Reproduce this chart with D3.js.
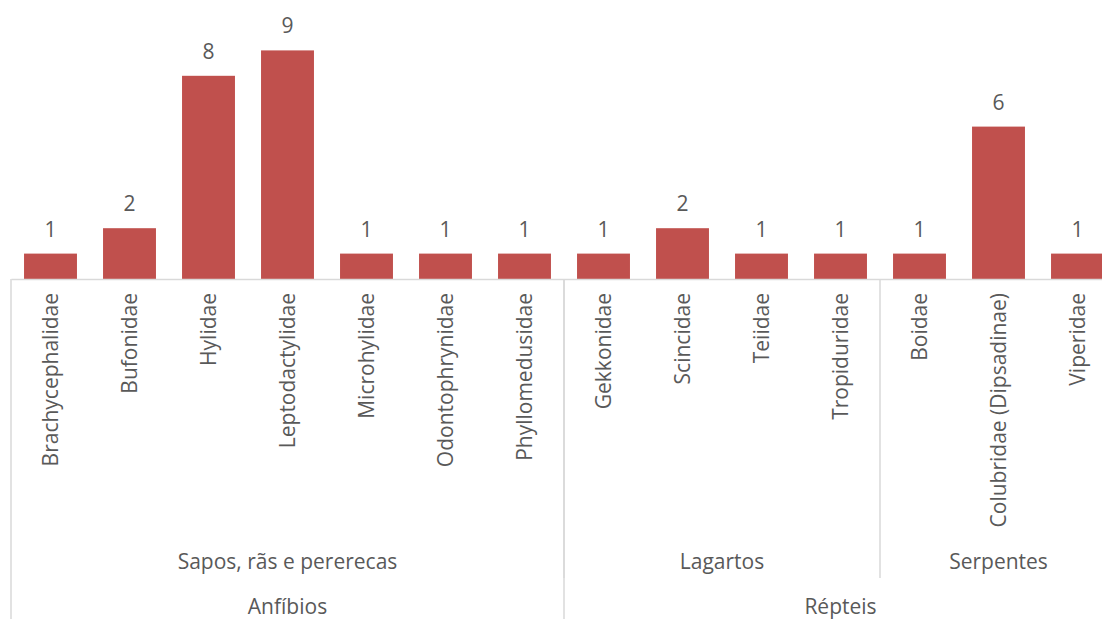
<!DOCTYPE html>
<html>
<head>
<meta charset="utf-8">
<script src="https://cdn.jsdelivr.net/npm/d3@7"></script>
<style>
  body { margin: 0; background: #fff; }
  svg text { font-family: "Open Sans", Lato, sans-serif; fill: #595959; }
</style>
</head>
<body>
<div class="chart"></div>
<script>
// families and counts
var families = ["Brachycephalidae", "Bufonidae", "Hylidae", "Leptodactylidae", "Microhylidae",
  "Odontophrynidae", "Phyllomedusidae", "Gekkonidae", "Scincidae", "Teiidae", "Tropiduridae",
  "Boidae", "Colubridae (Dipsadinae)", "Viperidae"];
var counts = [1, 2, 8, 9, 1, 1, 1, 1, 2, 1, 1, 1, 6, 1];

// group levels: [label, first family, last family]
var subGroups = [
  ["Sapos, rãs e pererecas", "Brachycephalidae", "Phyllomedusidae"],
  ["Lagartos", "Gekkonidae", "Tropiduridae"],
  ["Serpentes", "Boidae", "Viperidae"]
];
var mainGroups = [
  ["Anfíbios", "Brachycephalidae", "Phyllomedusidae"],
  ["Répteis", "Gekkonidae", "Viperidae"]
];

var svgWidth = 1102, svgHeight = 619;
var axisY = 279;
var fontSize = "21px";

var svg = d3.select(".chart").append("svg")
  .attr("width", svgWidth)
  .attr("height", svgHeight);

// band scale runs past the right edge, like the original (cut off)
var xScale = d3.scaleBand()
  .domain(families)
  .range([11, 1117])
  .paddingInner(0.33)
  .paddingOuter(0.165);

var yScale = d3.scaleLinear()
  .domain([0, 10])
  .range([axisY, axisY - 254]);

// bars
svg.append("g").selectAll("rect")
  .data(families)
  .enter()
  .append("rect")
  .attr("x", d => xScale(d))
  .attr("width", xScale.bandwidth())
  .attr("y", (d, i) => yScale(counts[i]))
  .attr("height", (d, i) => axisY - yScale(counts[i]))
  .attr("fill", "#C0504D");

// value labels
svg.append("g").selectAll("text")
  .data(families)
  .enter()
  .append("text")
  .attr("x", d => xScale(d) + xScale.bandwidth() / 2)
  .attr("y", (d, i) => yScale(counts[i]) - 17)
  .attr("text-anchor", "middle")
  .style("font-size", fontSize)
  .text((d, i) => counts[i]);

// category axis
var xAxis = d3.axisBottom(xScale).tickSize(0).tickSizeOuter(0);
var axisG = svg.append("g")
  .attr("transform", `translate(0, ${axisY})`)
  .call(xAxis);
axisG.select(".domain").attr("stroke", "#D9D9D9").attr("stroke-width", 1.5);
axisG.selectAll(".tick text")
  .attr("transform", "rotate(-90)")
  .attr("x", -14)
  .attr("y", 0)
  .attr("dy", "0.35em")
  .attr("text-anchor", "end")
  .style("font-size", fontSize)
  .style("fill", "#595959");

var step = xScale.step();
var left = d => xScale(d) - xScale.paddingInner() * step / 2;
var right = d => xScale(d) + xScale.bandwidth() + xScale.paddingInner() * step / 2;

var lineColor = "#D9D9D9";

// separator lines for sub groups
svg.append("g").selectAll("line")
  .data(subGroups.slice(1))
  .enter()
  .append("line")
  .attr("x1", d => left(d[1]))
  .attr("x2", d => left(d[1]))
  .attr("y1", axisY)
  .attr("y2", 578)
  .attr("stroke", lineColor)
  .attr("stroke-width", 1.5);

// separator lines for main groups (plus left border)
svg.append("g").selectAll("line")
  .data(mainGroups)
  .enter()
  .append("line")
  .attr("x1", d => left(d[1]))
  .attr("x2", d => left(d[1]))
  .attr("y1", axisY)
  .attr("y2", svgHeight)
  .attr("stroke", lineColor)
  .attr("stroke-width", 1.5);

// group labels
svg.append("g").selectAll("text")
  .data(subGroups)
  .enter()
  .append("text")
  .attr("x", d => (left(d[1]) + right(d[2])) / 2)
  .attr("y", 569)
  .attr("text-anchor", "middle")
  .style("font-size", fontSize)
  .text(d => d[0]);

svg.append("g").selectAll("text")
  .data(mainGroups)
  .enter()
  .append("text")
  .attr("x", d => (left(d[1]) + right(d[2])) / 2)
  .attr("y", 614)
  .attr("text-anchor", "middle")
  .style("font-size", fontSize)
  .text(d => d[0]);
</script>
</body>
</html>
